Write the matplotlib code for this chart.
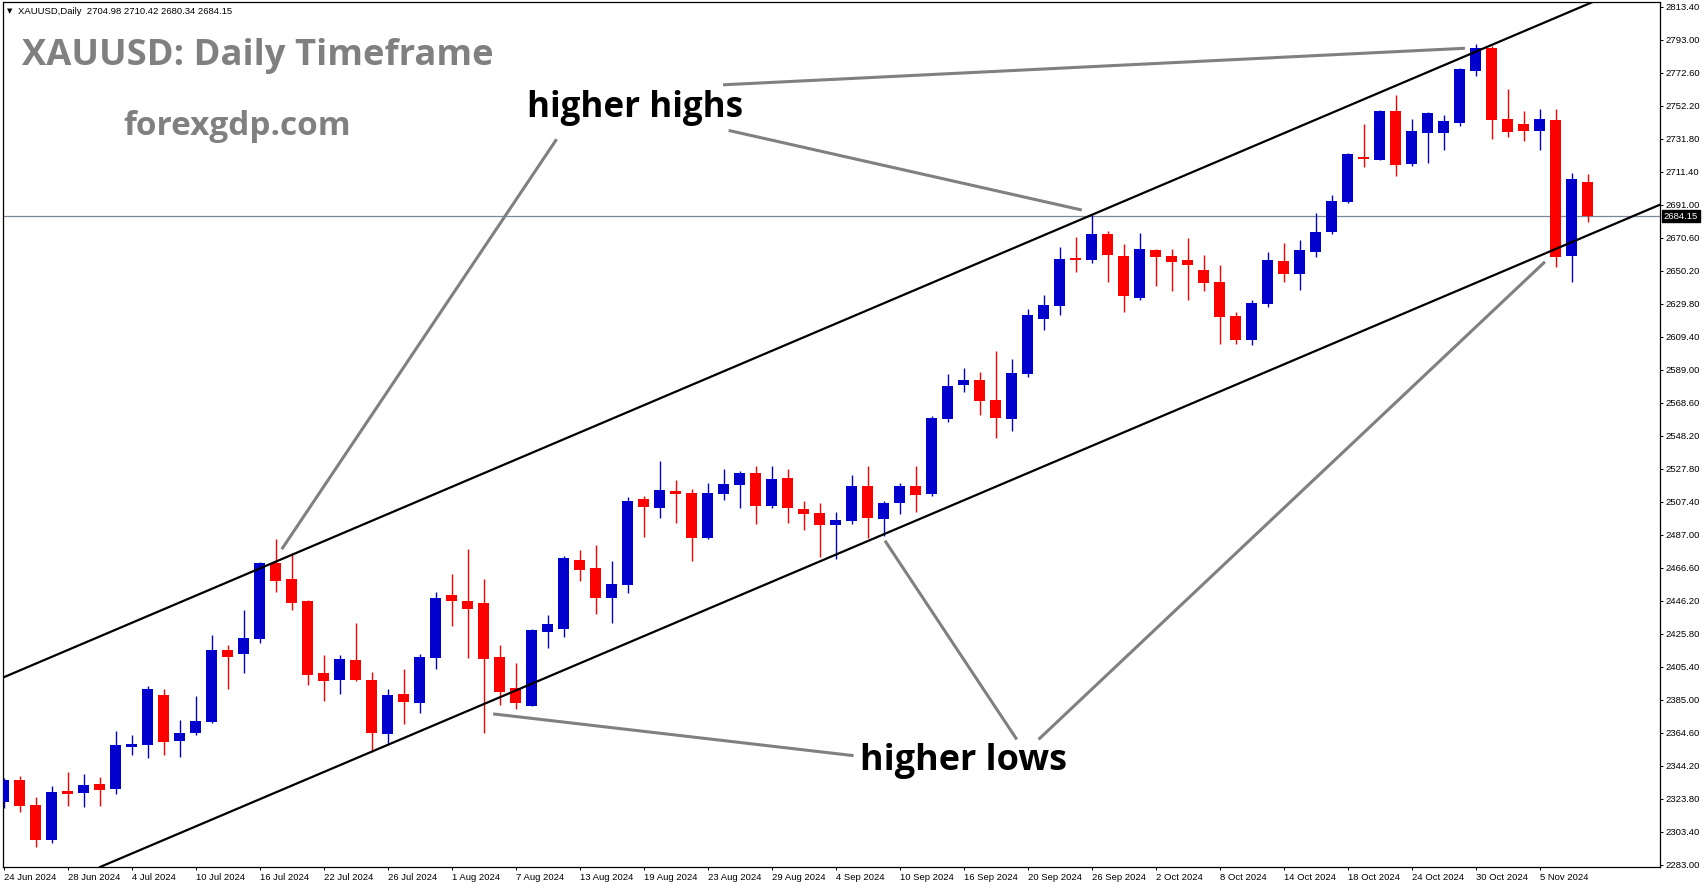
import numpy as np
import matplotlib
matplotlib.use("Agg")
import matplotlib.pyplot as plt
import matplotlib.transforms as mtransforms

# daily candles, 24 Jun 2024 .. 8 Nov 2024
opens = [2322.1, 2335.6, 2320.1, 2298.7, 2328.7, 2327.7, 2333.1, 2330.2, 2356.2, 2357.4,
         2388.1, 2359.9, 2364.6, 2371.6, 2415.9, 2413.6, 2422.9, 2469.7, 2459.8, 2446.2,
         2401.7, 2397.6, 2409.7, 2397.4, 2364.2, 2388.7, 2383.4, 2411.2, 2449.9, 2446.2,
         2445.0, 2411.6, 2392.4, 2381.5, 2427.2, 2429.1, 2471.5, 2466.6, 2448.0, 2456.3,
         2509.3, 2503.9, 2514.2, 2513.0, 2485.1, 2512.6, 2518.1, 2525.3, 2505.1, 2522.2,
         2503.1, 2500.6, 2493.4, 2495.9, 2517.3, 2497.1, 2507.0, 2517.3, 2512.5, 2558.9,
         2579.9, 2582.8, 2570.4, 2558.9, 2586.7, 2620.7, 2628.8, 2658.2, 2657.2, 2673.0,
         2659.5, 2633.7, 2663.2, 2659.5, 2657.0, 2650.8, 2643.4, 2622.4, 2607.7, 2630.0,
         2656.4, 2648.5, 2662.2, 2674.3, 2693.1, 2720.7, 2719.0, 2749.1, 2716.6, 2735.7,
         2735.7, 2741.9, 2774.0, 2788.1, 2744.2, 2741.1, 2737.0, 2743.5, 2659.7, 2704.98]
highs = [2336.5, 2338.0, 2324.8, 2331.8, 2340.5, 2339.3, 2337.4, 2365.8, 2363.4, 2393.7,
         2391.8, 2372.6, 2387.5, 2425.2, 2419.0, 2440.6, 2470.3, 2484.5, 2475.7, 2446.8,
         2412.8, 2412.8, 2432.6, 2402.3, 2392.0, 2404.2, 2413.4, 2451.8, 2462.9, 2478.3,
         2459.8, 2419.0, 2407.9, 2428.9, 2437.5, 2474.0, 2477.7, 2480.8, 2470.9, 2510.5,
         2511.1, 2532.7, 2521.0, 2515.4, 2519.1, 2527.8, 2526.6, 2529.7, 2529.7, 2527.8,
         2508.0, 2506.8, 2501.2, 2524.1, 2529.7, 2508.0, 2519.1, 2529.7, 2560.5, 2586.5,
         2590.2, 2587.8, 2600.7, 2595.8, 2626.7, 2635.4, 2665.0, 2671.2, 2684.8, 2674.9,
         2666.9, 2673.7, 2663.8, 2663.8, 2670.6, 2660.1, 2653.9, 2624.8, 2632.3, 2661.9,
         2667.5, 2669.4, 2686.0, 2697.2, 2723.2, 2741.1, 2749.7, 2759.0, 2744.2, 2748.5,
         2746.6, 2775.7, 2790.5, 2789.3, 2762.7, 2749.1, 2750.3, 2750.3, 2710.8, 2710.42]
lows = [2318.4, 2316.0, 2294.3, 2296.8, 2319.7, 2319.1, 2319.7, 2327.1, 2351.2, 2349.3,
        2351.2, 2350.0, 2363.4, 2370.8, 2392.0, 2401.9, 2420.4, 2452.0, 2440.8, 2394.5,
        2384.6, 2388.9, 2397.0, 2353.1, 2357.4, 2370.4, 2377.2, 2404.4, 2431.0, 2411.2,
        2364.8, 2381.9, 2379.4, 2381.0, 2417.3, 2424.2, 2458.8, 2438.4, 2432.8, 2451.3,
        2486.0, 2497.7, 2494.4, 2471.1, 2484.5, 2508.8, 2503.9, 2494.0, 2503.9, 2494.4,
        2490.3, 2473.6, 2472.4, 2493.8, 2485.1, 2486.2, 2500.0, 2501.2, 2511.2, 2557.1,
        2575.6, 2561.4, 2547.2, 2551.5, 2584.9, 2613.9, 2623.2, 2649.6, 2655.1, 2643.4,
        2625.1, 2632.5, 2641.1, 2638.0, 2632.5, 2638.0, 2605.3, 2605.3, 2604.7, 2628.1,
        2643.6, 2638.6, 2659.1, 2673.3, 2692.4, 2714.7, 2718.6, 2709.1, 2715.3, 2717.2,
        2725.2, 2740.0, 2771.0, 2732.0, 2733.2, 2730.8, 2725.2, 2652.9, 2643.6, 2680.34]
closes = [2335.6, 2319.7, 2298.7, 2328.1, 2327.1, 2332.5, 2329.6, 2357.2, 2357.8, 2391.8,
          2359.3, 2364.6, 2372.0, 2415.9, 2411.8, 2423.3, 2469.7, 2458.8, 2445.2, 2400.7,
          2397.0, 2410.3, 2397.6, 2364.8, 2388.1, 2384.0, 2411.6, 2448.0, 2446.4, 2441.5,
          2410.6, 2390.2, 2383.4, 2428.3, 2432.0, 2472.8, 2465.4, 2448.0, 2456.7, 2508.0,
          2504.5, 2514.8, 2512.6, 2485.4, 2513.0, 2518.5, 2525.3, 2505.1, 2521.6, 2503.9,
          2500.2, 2493.4, 2496.3, 2517.3, 2497.5, 2506.8, 2517.3, 2511.9, 2559.3, 2579.1,
          2582.8, 2570.0, 2559.5, 2587.1, 2623.0, 2629.2, 2657.6, 2657.2, 2673.0, 2660.3,
          2634.9, 2663.8, 2659.1, 2656.0, 2654.1, 2643.0, 2621.9, 2607.7, 2630.4, 2657.0,
          2648.5, 2663.2, 2674.3, 2693.5, 2722.5, 2719.6, 2749.1, 2715.9, 2736.7, 2747.9,
          2742.9, 2775.1, 2788.1, 2743.7, 2736.3, 2737.0, 2744.2, 2659.1, 2707.1, 2684.15]

date_labels = ["24 Jun 2024", "28 Jun 2024", "4 Jul 2024", "10 Jul 2024", "16 Jul 2024",
               "22 Jul 2024", "26 Jul 2024", "1 Aug 2024", "7 Aug 2024", "13 Aug 2024",
               "19 Aug 2024", "23 Aug 2024", "29 Aug 2024", "4 Sep 2024", "10 Sep 2024",
               "16 Sep 2024", "20 Sep 2024", "26 Sep 2024", "2 Oct 2024", "8 Oct 2024",
               "14 Oct 2024", "18 Oct 2024", "24 Oct 2024", "30 Oct 2024", "5 Nov 2024"]
date_step = 4  # one label every 4 bars

price_ticks = [2283.00 + 20.4 * k for k in range(27)]
last_price = 2684.15

# channel lines: two anchor points each (bar index, price)
upper_channel = [(0.0, 2399.0), (95.95, 2802.3)]
lower_channel = [(7.07, 2286.1), (101.03, 2680.7)]

# pointer lines (bar index, price) -> (bar index, price)
highs_pointers = [((34.57, 2731.7), (17.39, 2478.2)),
                  ((45.32, 2737.1), (67.39, 2687.9)),
                  ((44.97, 2765.3), (91.34, 2787.9))]
lows_pointers = [((53.13, 2350.6), (30.6, 2376.4)),
                 ((63.33, 2360.6), (55.09, 2483.5)),
                 ((64.69, 2360.6), (96.34, 2655.9))]
highs_label_pos = (32.7, 2745.4)
lows_label_pos = (53.5, 2341.7)

BLUE = "#0000cc"
RED = "#ff0000"
GREY = "#808080"

W, H = 1705, 888
fig = plt.figure(figsize=(W / 100, H / 100), dpi=100)
ax = fig.add_axes([2.5 / W, 21 / H, 1657 / W, 864.5 / H])

n = len(opens)
x = np.arange(n)
o = np.array(opens); c = np.array(closes)
hi = np.array(highs); lo = np.array(lows)
up = c >= o
colors = np.where(up, BLUE, RED)
body_lo = np.minimum(o, c)
body_h = np.maximum(np.abs(c - o), 0.7)

ax.vlines(x, lo, hi, colors=colors, lw=1.0, zorder=2)
ax.bar(x, body_h, bottom=body_lo, width=0.69, color=colors, linewidth=0, zorder=3)

# current price line
ax.axhline(last_price, color="#778899", lw=0.9, zorder=1)

# channel
for (p1, p2) in [upper_channel, lower_channel]:
    ax.axline(p1, p2, color="black", lw=1.6, zorder=4)

for (a, b) in highs_pointers + lows_pointers:
    ax.plot([a[0], b[0]], [a[1], b[1]], color=GREY, lw=2.2, solid_capstyle="butt", zorder=5)

ax.text(highs_label_pos[0], highs_label_pos[1], "higher highs", fontsize=25.2, fontweight="bold",
        family="Open Sans", color="black", ha="left", va="baseline", zorder=6)
ax.text(lows_label_pos[0], lows_label_pos[1], "higher lows", fontsize=25.9, fontweight="bold",
        family="Open Sans", color="black", ha="left", va="baseline", zorder=6)

ax.set_xlim(-0.0625, 103.5)
ax.set_ylim(2281.76, 2816.18)

# axes styling like the terminal
for s in ax.spines.values():
    s.set_color("black")
    s.set_linewidth(0.9)
ax.yaxis.tick_right()
ax.set_yticks(price_ticks)
ax.set_yticklabels(["%.2f" % p for p in price_ticks])
ax.set_xticks(np.arange(0, len(date_labels) * date_step, date_step))
ax.set_xticklabels(date_labels)
ax.tick_params(axis="both", length=2.5, width=0.7, color="black", labelsize=6.8, pad=1.5)
for t in ax.get_xticklabels():
    t.set_ha("left")
    t.set_family("Liberation Sans")
for t in ax.get_yticklabels():
    t.set_family("Liberation Sans")

# last price tag
trans = mtransforms.blended_transform_factory(ax.transAxes, ax.transData)
ax.text(1.0025, last_price, "%.2f" % last_price, transform=trans, fontsize=6.8, color="white",
        family="Liberation Sans", ha="left", va="center", zorder=7,
        bbox=dict(boxstyle="square,pad=0.2", fc="black", ec="black"))

# header and watermark texts
fig.text(7 / W, 1 - 11 / H, "\u25bc", fontsize=5, color="black", va="center", ha="left")
fig.text(18 / W, 1 - 11 / H, "XAUUSD,Daily  %.2f %.2f %.2f %.2f" % (opens[-1], highs[-1], lows[-1], closes[-1]),
         fontsize=6.8, family="Liberation Sans", color="black", va="center", ha="left")
fig.text(22 / W, 1 - 65 / H, "XAUUSD: Daily Timeframe", fontsize=26.2, fontweight="bold",
         family="Open Sans", color=GREY, va="baseline", ha="left")
fig.text(123 / W, 1 - 135 / H, "forexgdp.com", fontsize=24, fontweight="bold",
         family="Open Sans", color=GREY, va="baseline", ha="left")

fig.savefig("out.png", dpi=100)
